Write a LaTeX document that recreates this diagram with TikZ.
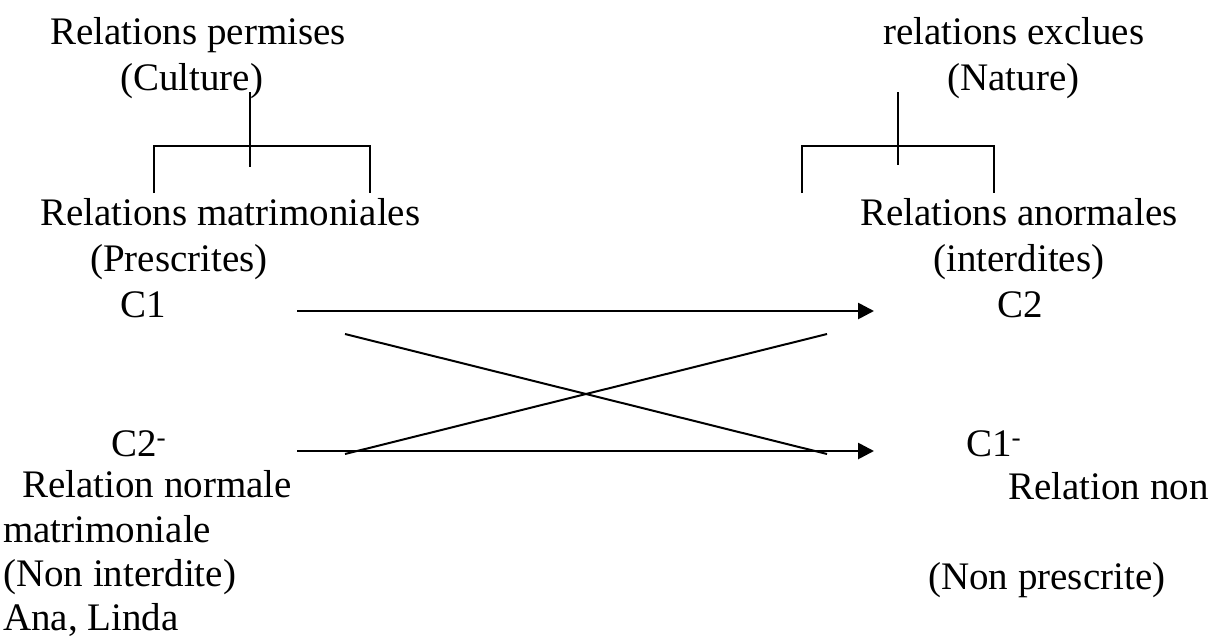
\documentclass[tikz,border=0pt]{standalone}
\usepackage{fontspec}
\setmainfont{Liberation Serif}
\usetikzlibrary{arrows.meta}
\begin{document}
\begin{tikzpicture}[x=1pt,y=-1pt,
  lbl/.style={inner sep=0pt, anchor=base west, font=\fontsize{39}{46}\selectfont},
  tree/.style={line width=2pt},
  arr/.style={line width=2.7pt, -{Triangle[length=16pt,width=16pt]}},
  cross/.style={line width=2pt}]
\useasboundingbox[fill=white] (0,0) rectangle (1228,643);
% texts
\node[lbl] (perm) at (50,44) {Relations permises};
\node[lbl] (cult) at (120,90) {(Culture)};
\node[lbl] (excl) at (883,44) {relations exclues};
\node[lbl] (nat) at (947,90) {(Nature)};
\node[lbl] (matr) at (40,225) {Relations matrimoniales};
\node[lbl] (presc) at (90,271) {(Prescrites)};
\node[lbl] (c1) at (120,317) {C1};
\node[lbl] (anor) at (860,225) {Relations anormales};
\node[lbl] (inter) at (933,271) {(interdites)};
\node[lbl] (c2) at (997,317) {C2};
\node[lbl] (c2m) at (111,456) {C2\textsuperscript{-}};
\node[lbl] (c1m) at (966,456) {C1\textsuperscript{-}};
\node[lbl] (rn) at (22,497) {Relation normale};
\node[lbl] (mat) at (3,542) {matrimoniale};
\node[lbl] (ni) at (3,586) {(Non interdite)};
\node[lbl] (ana) at (3,630) {Ana, Linda};
\node[lbl] (rnon) at (1008,499) {Relation non};
\node[lbl] (np) at (928,589) {(Non prescrite)};
% left tree
\coordinate (lt) at (250,92);
\coordinate (lm) at (250,167);
\coordinate (ll) at (154,146);
\coordinate (lr) at (370,146);
\coordinate (lld) at (154,193);
\coordinate (lrd) at (370,193);
\draw[tree] (lt) -- (lm);
\draw[tree] (lld) -- (ll) -- (lr) -- (lrd);
% right tree
\coordinate (rt) at (898,92);
\coordinate (rm) at (898,165);
\coordinate (rl) at (802,146);
\coordinate (rr) at (994,146);
\coordinate (rld) at (802,193);
\coordinate (rrd) at (994,193);
\draw[tree] (rt) -- (rm);
\draw[tree] (rld) -- (rl) -- (rr) -- (rrd);
% arrows
\coordinate (a1s) at (297,311);
\coordinate (a1e) at (874,311);
\coordinate (a2s) at (297,451);
\coordinate (a2e) at (874,451);
\draw[arr] (a1s) -- (a1e);
\draw[arr] (a2s) -- (a2e);
% cross
\coordinate (x1) at (345,334);
\coordinate (x2) at (827,454);
\coordinate (x3) at (345,454);
\coordinate (x4) at (827,334);
\draw[cross] (x1) -- (x2);
\draw[cross] (x3) -- (x4);
\end{tikzpicture}
\end{document}
